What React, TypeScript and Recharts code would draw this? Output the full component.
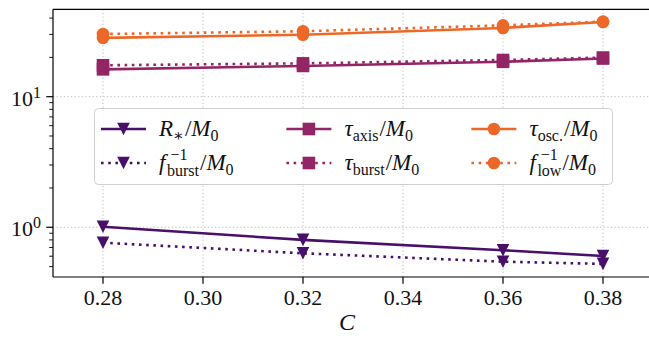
import type { ReactNode } from "react";
import { CartesianGrid, Legend, Line, LineChart, ReferenceLine, XAxis, YAxis } from "recharts";

// compactness C of each run
const cValues = [0.28, 0.32, 0.36, 0.38];

// timescales in units of M0
const rStar = [1.01, 0.8, 0.667, 0.603];
const fBurstInv = [0.762, 0.632, 0.545, 0.524];
const tauAxis = [16.2, 17.2, 18.5, 19.6];
const tauBurst = [17.4, 18.0, 19.1, 19.95];
const tauOsc = [28.2, 29.8, 33.6, 37.3];
const fLowInv = [30.2, 31.7, 35.2, 37.6];

const xTicks = [0.28, 0.3, 0.32, 0.34, 0.36, 0.38];
const yMajor = [1, 10];
const yMinor = [0.5, 0.6, 0.7, 0.8, 0.9, 2, 3, 4, 5, 6, 7, 8, 9, 20, 30, 40];

const X_DOMAIN: [number, number] = [0.27, 0.39];
const Y_DOMAIN: [number, number] = [0.416, 46.7];

const FONT = "'Liberation Serif', 'DejaVu Serif', serif";
const TEXT_STYLE = { fontFamily: FONT };
const INK = "#111111";
const DOTS = "2.6 4.6";
const SUB = 16;

const PURPLE = "#480f6b";
const MAGENTA = "#932567";
const ORANGE = "#ec6828";

type Shape = "v" | "s" | "o";

function Marker({ cx, cy, shape, color }: { cx?: number; cy?: number; shape: Shape; color: string }) {
  if (cx == null || cy == null) return null;
  const r = 6.3;
  if (shape === "v") {
    return <path d={`M${cx - r},${cy - r}L${cx + r},${cy - r}L${cx},${cy + r}Z`} fill={color} />;
  }
  if (shape === "s") {
    return <rect x={cx - r} y={cy - r} width={2 * r} height={2 * r} fill={color} />;
  }
  return <circle cx={cx} cy={cy} r={r} fill={color} />;
}

// "/M0" tail shared by every legend entry
const overM0 = (
  <>
    <tspan dx={1}>/</tspan>
    <tspan fontStyle="italic">M</tspan>
    <tspan dy={5} fontSize={SUB}>0</tspan>
  </>
);

const tauLabel = (sub: string) => () => (
  <>
    <tspan fontStyle="italic">τ</tspan>
    <tspan dy={5} fontSize={SUB}>{sub}</tspan>
    <tspan dy={-5} fontSize={0}>{" "}</tspan>
    {overM0}
  </>
);

const invFreqLabel = (sub: string) => (x: number) => (
  <>
    <tspan fontStyle="italic">f</tspan>
    <tspan dx={5} dy={-10} fontSize={SUB}>−1</tspan>
    <tspan x={x + 8} dy={16} fontSize={SUB}>{sub}</tspan>
    <tspan dy={-6} fontSize={0}>{" "}</tspan>
    {overM0}
  </>
);

type Series = {
  key: string;
  values: number[];
  color: string;
  dotted: boolean;
  shape: Shape;
  label: (x: number) => ReactNode;
};

const series: Series[] = [
  {
    key: "rStar",
    values: rStar,
    color: PURPLE,
    dotted: false,
    shape: "v",
    label: () => (
      <>
        <tspan fontStyle="italic">R</tspan>
        <tspan dy={5} fontSize={SUB}>∗</tspan>
        <tspan dy={-5} fontSize={0}>{" "}</tspan>
        {overM0}
      </>
    ),
  },
  { key: "fBurstInv", values: fBurstInv, color: PURPLE, dotted: true, shape: "v", label: invFreqLabel("burst") },
  { key: "tauAxis", values: tauAxis, color: MAGENTA, dotted: false, shape: "s", label: tauLabel("axis") },
  { key: "tauBurst", values: tauBurst, color: MAGENTA, dotted: true, shape: "s", label: tauLabel("burst") },
  { key: "tauOsc", values: tauOsc, color: ORANGE, dotted: false, shape: "o", label: tauLabel("osc.") },
  { key: "fLowInv", values: fLowInv, color: ORANGE, dotted: true, shape: "o", label: invFreqLabel("low") },
];

const rows = cValues.map((c, i) => {
  const row: Record<string, number> = { c };
  series.forEach((s) => {
    row[s.key] = s.values[i];
  });
  return row;
});

function XTick({ x, y, payload }: any) {
  return (
    <g>
      <line x1={x} x2={x} y1={y} y2={y + 6.7} stroke="#000" strokeWidth={1.2} />
      <text x={x} y={y + 27.8} textAnchor="middle" style={TEXT_STYLE} fontSize={22} fill={INK}>
        {Number(payload.value).toFixed(2)}
      </text>
    </g>
  );
}

function YTick({ x, y, payload }: any) {
  const v = Number(payload.value);
  const major = yMajor.includes(v);
  return (
    <g>
      <line x1={x - (major ? 6.7 : 3.8)} x2={x} y1={y} y2={y} stroke="#000" strokeWidth={major ? 1.2 : 0.9} />
      {major && (
        <text x={x - 12} y={y + 9} textAnchor="end" style={TEXT_STYLE} fontSize={22} fill={INK}>
          10
          <tspan dy={-8} fontSize={SUB}>
            {Math.round(Math.log10(v))}
          </tspan>
        </text>
      )}
    </g>
  );
}

function LegendBox() {
  const cols = [7, 192.4, 377.4];
  const lines = [21, 55];
  return (
    <svg width={520} height={78} style={{ display: "block", overflow: "visible" }}>
      <rect x={0.5} y={0.5} width={518} height={76} rx={4} fill="#ffffff" fillOpacity={0.85} stroke="#d0d0d0" />
      {series.map((s, i) => {
        const x0 = cols[Math.floor(i / 2)];
        const y0 = lines[i % 2];
        const tx = x0 + 58;
        return (
          <g key={s.key}>
            <line
              x1={x0}
              x2={x0 + 45}
              y1={y0}
              y2={y0}
              stroke={s.color}
              strokeWidth={2.6}
              strokeDasharray={s.dotted ? DOTS : undefined}
            />
            <Marker cx={x0 + 22.5} cy={y0} shape={s.shape} color={s.color} />
            <text x={tx} y={y0 + 7} style={TEXT_STYLE} fontSize={23} fill={INK}>
              {s.label(tx)}
            </text>
          </g>
        );
      })}
    </svg>
  );
}

export default function App() {
  return (
    <div
      style={{ width: 649, height: 339, overflow: "hidden", position: "relative", background: "#fff", fontFamily: FONT }}
    >
      <style>{"body{margin:0}"}</style>
      <LineChart width={668} height={339} data={rows} margin={{ top: 9.3, right: 15, left: 0, bottom: 0 }}>
        <CartesianGrid
          stroke="#bdbdbd"
          strokeWidth={1}
          strokeDasharray="1.2 2.4"
          horizontalValues={[1, 10]}
          verticalValues={xTicks}
        />
        <XAxis
          dataKey="c"
          type="number"
          domain={X_DOMAIN}
          allowDataOverflow
          ticks={xTicks}
          interval={0}
          tickSize={0}
          tickMargin={0}
          height={62}
          tick={<XTick />}
          axisLine={{ stroke: "#000", strokeWidth: 1.2 }}
          label={{
            content: (p: any) => (
              <text
                x={p.viewBox.x + p.viewBox.width / 2 - 6}
                y={p.viewBox.y + 53}
                textAnchor="middle"
                style={TEXT_STYLE}
                fontStyle="italic"
                fontSize={24}
                fill={INK}
              >
                C
              </text>
            ),
          }}
        />
        <YAxis
          type="number"
          scale="log"
          domain={Y_DOMAIN}
          allowDataOverflow
          ticks={[...yMinor, ...yMajor].sort((a, b) => a - b)}
          interval={0}
          tickSize={0}
          tickMargin={0}
          width={53}
          tick={<YTick />}
          axisLine={{ stroke: "#000", strokeWidth: 1.2 }}
        />
        <ReferenceLine y={Y_DOMAIN[1]} stroke="#000" strokeWidth={1.2} ifOverflow="extendDomain" />
        {series.map((s) => (
          <Line
            key={s.key}
            dataKey={s.key}
            type="linear"
            stroke={s.color}
            strokeWidth={2.6}
            strokeDasharray={s.dotted ? DOTS : undefined}
            isAnimationActive={false}
            activeDot={false}
            dot={(p: any) => <Marker key={`${s.key}-${p.index}`} cx={p.cx} cy={p.cy} shape={s.shape} color={s.color} />}
          />
        ))}
        <Legend
          layout="horizontal"
          verticalAlign="middle"
          align="center"
          content={() => <LegendBox />}
          wrapperStyle={{ position: "absolute", left: 93.6, top: 108, width: 520, height: 78 }}
        />
      </LineChart>
    </div>
  );
}
